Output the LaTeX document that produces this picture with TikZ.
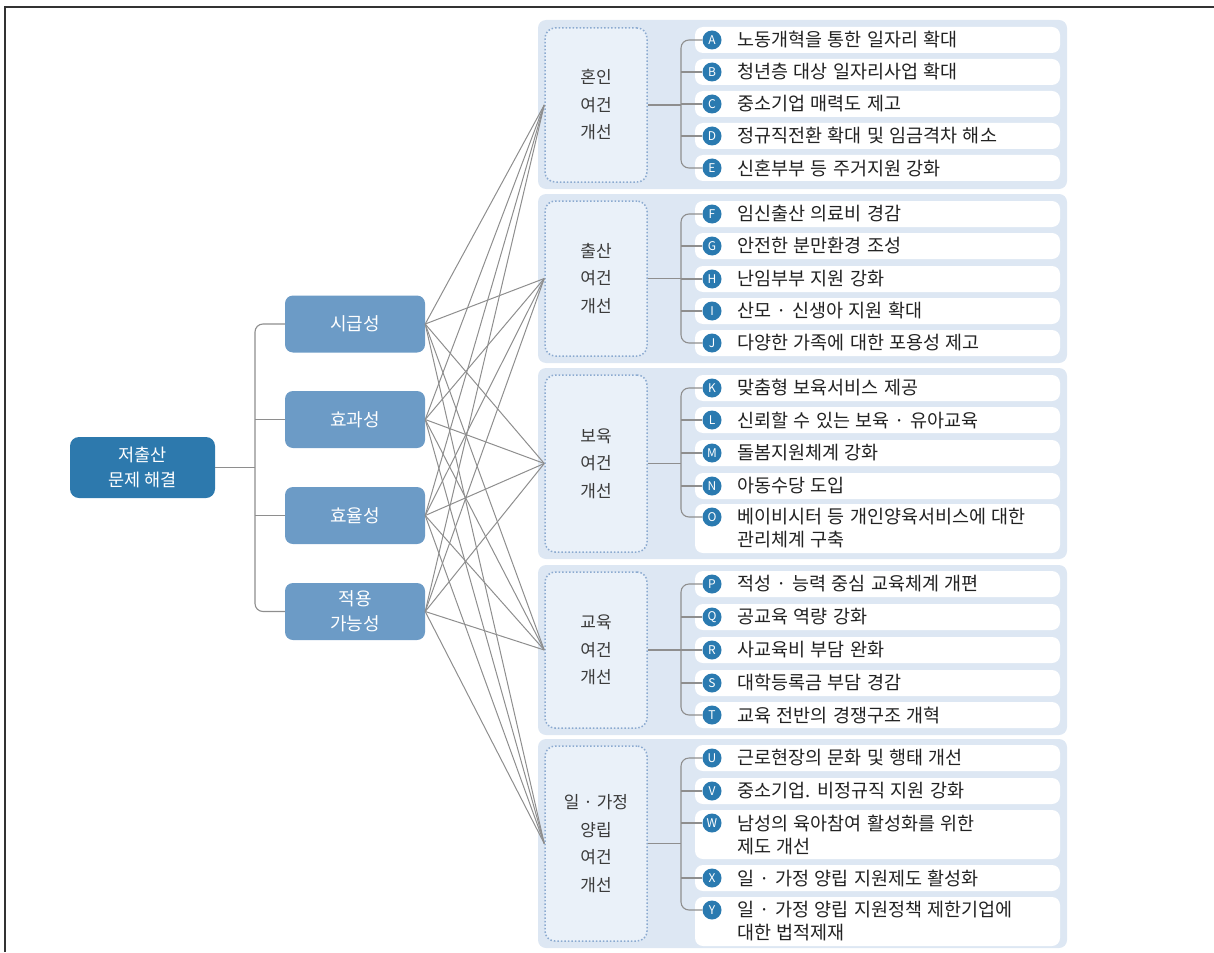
\documentclass[tikz,border=0pt]{standalone}
\usepackage{fontspec}
\setmainfont{Noto Sans CJK KR}
\newfontfamily\itemfont[WordSpace=1.3]{Noto Sans CJK KR}
\usetikzlibrary{calc}

\definecolor{rootblue}{HTML}{2D79AD}
\definecolor{critblue}{HTML}{6C9BC6}
\definecolor{panelbg}{HTML}{DDE7F3}
\definecolor{dotbg}{HTML}{EAF1F9}
\definecolor{dotline}{HTML}{8BAAD0}
\definecolor{badgeblue}{HTML}{2A7AB0}
\definecolor{linegray}{HTML}{8E8E8E}
\definecolor{txt}{HTML}{222222}
\definecolor{cattxt}{HTML}{3A3A3A}

\tikzset{
  rootbox/.style={rectangle, rounded corners=9pt, fill=rootblue, text=white,
    minimum width=145pt, minimum height=61pt, inner sep=0pt, align=center,
    font=\fontsize{17.5}{25}\selectfont},
  critbox/.style={rectangle, rounded corners=8pt, fill=critblue, text=white,
    minimum width=140pt, minimum height=57pt, inner sep=0pt, align=center,
    font=\fontsize{18}{25}\selectfont},
  panelbox/.style={fill=panelbg, rounded corners=8pt},
  catbox/.style={rectangle, draw=dotline, line width=1.5pt, dotted, fill=dotbg,
    rounded corners=10pt, minimum width=102pt, inner sep=0pt, align=center,
    text=cattxt, font=\fontsize{17}{27.5}\selectfont},
  itembox/.style={rectangle, fill=white, rounded corners=8pt,
    minimum width=365pt, inner sep=0pt},
  itemtext/.style={anchor=west, inner sep=0pt, align=left, text=txt,
    font=\itemfont\fontsize{18.5}{23}\selectfont},
  badge/.style={circle, fill=badgeblue, text=white, minimum size=19pt,
    inner sep=0pt, font=\fontsize{12}{12}\selectfont},
  conn/.style={draw=linegray, line width=1.1pt},
  cross/.style={draw=linegray, line width=1pt},
  frameline/.style={draw=black!80, line width=1.6pt}
}

% one-line item: name, letter, y, text
\newcommand\oneitem[4]{%
  \node[itembox, minimum height=26pt] (#1) at (877.5,#3) {};
  \node[itemtext] (#1t) at (737,#3) {#4};
  \node[badge] (#1b) at (712,#3) {#2};
}
% two-line item: name, letter, y of first line, line 1, line 2
\newcommand\twoitem[5]{%
  \node[itembox, minimum height=49pt] (#1) at (877.5,#3+11.5) {};
  \node[itemtext] (#1t) at (737,#3+11.5) {#4\\#5};
  \node[badge] (#1b) at (712,#3) {#2};
}

\begin{document}
\begin{tikzpicture}[x=1pt, y=-1pt]
\useasboundingbox (0,0) rectangle (1214,952);

% page frame
\draw[frameline] (5,952) -- (5,7) -- (1214,7);

% category panels
\fill[panelbox] (538,20) rectangle (1067,189);
\fill[panelbox] (538,194) rectangle (1067,363);
\fill[panelbox] (538,368) rectangle (1067,559);
\fill[panelbox] (538,565) rectangle (1067,735);
\fill[panelbox] (538,739) rectangle (1067,948);

% root and criteria
\node[rootbox] (root) at (142.5,467.5) {저출산\\문제 해결};
\node[critbox] (c1) at (355,324) {시급성};
\node[critbox] (c2) at (355,419.5) {효과성};
\node[critbox] (c3) at (355,515.5) {효율성};
\node[critbox] (c4) at (355,611.5) {적용\\가능성};

% categories
\node[catbox, minimum height=154pt] (k1) at (596,105) {혼인\\여건\\개선};
\node[catbox, minimum height=155pt] (k2) at (596,278.5) {출산\\여건\\개선};
\node[catbox, minimum height=177pt] (k3) at (596,463.5) {보육\\여건\\개선};
\node[catbox, minimum height=156pt] (k4) at (596,650) {교육\\여건\\개선};
\node[catbox, minimum height=195pt] (k5) at (596,843.5) {일 · 가정\\양립\\여건\\개선};

% tree from root to criteria
\coordinate (trunk) at (255,0);
\draw[conn] (root.east) -- (trunk |- root.east);
\draw[conn, rounded corners=8pt] (c1.west) -| (trunk |- c4.west) -- (c4.west);
\draw[conn] (trunk |- c2.west) -- (c2.west);
\draw[conn] (trunk |- c3.west) -- (c3.west);

% every criterion to every category
\foreach \c in {c1,c2,c3,c4}
  \foreach \k in {k1,k2,k3,k4,k5}
    \draw[cross] (\c.east) -- (\k.west);

% items
\oneitem{iA}{A}{40}{노동개혁을 통한 일자리 확대}
\oneitem{iB}{B}{72}{청년층 대상 일자리사업 확대}
\oneitem{iC}{C}{104}{중소기업 매력도 제고}
\oneitem{iD}{D}{136}{정규직전환 확대 및 임금격차 해소}
\oneitem{iE}{E}{168}{신혼부부 등 주거지원 강화}

\oneitem{iF}{F}{214}{임신출산 의료비 경감}
\oneitem{iG}{G}{246}{안전한 분만환경 조성}
\oneitem{iH}{H}{279}{난임부부 지원 강화}
\oneitem{iI}{I}{311}{산모 · 신생아 지원 확대}
\oneitem{iJ}{J}{343}{다양한 가족에 대한 포용성 제고}

\oneitem{iK}{K}{388}{맞춤형 보육서비스 제공}
\oneitem{iL}{L}{420}{신뢰할 수 있는 보육 · 유아교육}
\oneitem{iM}{M}{453}{돌봄지원체계 강화}
\oneitem{iN}{N}{486}{아동수당 도입}
\twoitem{iO}{O}{517}{베이비시터 등 개인양육서비스에 대한}{관리체계 구축}

\oneitem{iP}{P}{584}{적성 · 능력 중심 교육체계 개편}
\oneitem{iQ}{Q}{617}{공교육 역량 강화}
\oneitem{iR}{R}{650}{사교육비 부담 완화}
\oneitem{iS}{S}{683}{대학등록금 부담 경감}
\oneitem{iT}{T}{715}{교육 전반의 경쟁구조 개혁}

\oneitem{iU}{U}{758}{근로현장의 문화 및 행태 개선}
\oneitem{iV}{V}{791}{중소기업. 비정규직 지원 강화}
\twoitem{iW}{W}{823}{남성의 육아참여 활성화를 위한}{제도 개선}
\oneitem{iX}{X}{878}{일 · 가정 양립 지원제도 활성화}
\twoitem{iY}{Y}{910}{일 · 가정 양립 지원정책 제한기업에}{대한 법적제재}

% brackets from each category to its items
\coordinate (spine) at (681,0);
\foreach \k/\first/\last/\mids in {k1/iA/iE/{iB,iC,iD}, k2/iF/iJ/{iG,iH,iI},
    k3/iK/iO/{iL,iM,iN}, k4/iP/iT/{iQ,iR,iS}, k5/iU/iY/{iV,iW,iX}} {
  \draw[conn] (\k.east) -- (spine |- \k.east);
  \draw[conn, rounded corners=8pt] (\first b.west) -| (spine |- \last b.west) -- (\last b.west);
  \foreach \m in \mids
    \draw[conn] (spine |- \m b.west) -- (\m b.west);
}
\end{tikzpicture}
\end{document}
